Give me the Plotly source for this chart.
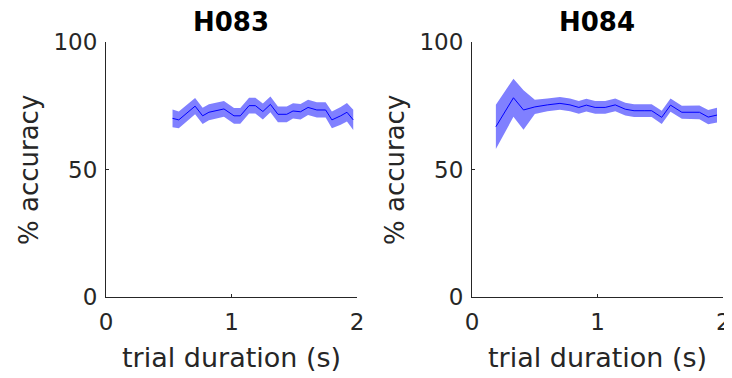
import plotly.graph_objects as go

# H083
x_h083 = [0.53, 0.58, 0.71, 0.77, 0.82, 0.94, 1.02, 1.07, 1.14, 1.19, 1.25, 1.31,
          1.37, 1.44, 1.49, 1.55, 1.61, 1.68, 1.75, 1.80, 1.87, 1.92, 1.97]
acc_h083 = [70.1, 69.5, 74.9, 71.1, 72.5, 73.8, 71.1, 71.1, 75.1, 75.1, 72.8, 75.6,
            71.7, 71.7, 73.0, 72.7, 74.4, 73.4, 73.4, 69.5, 71.1, 72.5, 69.5]
err_h083 = [3.5, 3.3, 3.2, 3.2, 3.1, 3.1, 3.1, 3.1, 3.1, 3.1, 3.1, 3.1,
            3.1, 3.1, 3.0, 3.0, 3.0, 3.0, 3.0, 3.3, 3.5, 3.6, 4.0]

# H084
x_h084 = [0.19, 0.33, 0.41, 0.50, 0.60, 0.70, 0.78, 0.85, 0.91, 0.98, 1.06, 1.14,
          1.22, 1.29, 1.37, 1.43, 1.51, 1.58, 1.67, 1.75, 1.81, 1.88, 1.95]
acc_h084 = [66.8, 78.2, 73.4, 74.6, 75.4, 76.0, 75.4, 74.4, 75.3, 74.4, 74.4, 75.4,
            73.7, 73.1, 73.1, 73.1, 70.5, 75.3, 72.5, 72.5, 72.5, 70.6, 71.4]
err_h084 = [8.7, 7.5, 7.8, 2.8, 2.5, 2.5, 2.5, 2.5, 2.5, 2.5, 2.5, 2.5,
            2.5, 2.5, 2.5, 2.5, 2.6, 2.6, 2.6, 2.6, 2.7, 2.8, 2.9]

titles = ["H083", "H084"]
x_ticks = [0, 1, 2]
y_ticks = [0, 50, 100]

FONT = "DejaVu Sans"
TXT = "#262626"
BAND = "rgb(128,128,255)"
LINE = "rgb(0,0,255)"

W, H = 732, 378
OFF = 8  # page body margin


def px(x):
    return (x - OFF) / W


def py(y):
    return 1 - (y - OFF) / H


fig = go.Figure()

series = [(x_h083, acc_h083, err_h083), (x_h084, acc_h084, err_h084)]
for i, (xs, ys, es) in enumerate(series):
    xa = "x" if i == 0 else "x2"
    ya = "y" if i == 0 else "y2"
    upper = [y + e for y, e in zip(ys, es)]
    lower = [y - e for y, e in zip(ys, es)]
    fig.add_trace(go.Scatter(
        x=xs + xs[::-1], y=upper + lower[::-1], fill="toself",
        fillcolor=BAND, line=dict(width=0), mode="lines",
        hoverinfo="skip", showlegend=False, xaxis=xa, yaxis=ya))
    fig.add_trace(go.Scatter(
        x=xs, y=ys, mode="lines", line=dict(color=LINE, width=1),
        showlegend=False, xaxis=xa, yaxis=ya))

ax_common = dict(showgrid=False, zeroline=False, showline=True, linecolor=TXT,
                 linewidth=1, ticks="inside", ticklen=3, tickcolor=TXT,
                 automargin=False,
                 tickfont=dict(family=FONT, size=23, color=TXT))

ytop = py(42.3)
ybot = py(296.7)
fig.update_layout(
    width=W, height=H, autosize=False,
    margin=dict(l=0, r=0, t=0, b=0, pad=0, autoexpand=False),
    paper_bgcolor="white", plot_bgcolor="white",
    xaxis=dict(domain=[px(106), px(357)], range=[0, 2], tickvals=x_ticks, anchor="y",
               ticklabelstandoff=5, **ax_common),
    yaxis=dict(domain=[ybot, ytop], range=[0, 100], tickvals=y_ticks, anchor="x",
               ticklabelstandoff=3, **ax_common),
    xaxis2=dict(domain=[px(472), px(723.3)], range=[0, 2], tickvals=x_ticks, anchor="y2",
                ticklabelstandoff=5, **ax_common),
    yaxis2=dict(domain=[ybot, ytop], range=[0, 100], tickvals=y_ticks, anchor="x2",
                ticklabelstandoff=3, **ax_common),
)

centers = [231, 597]
ylab_x = [29, 395]
for i in range(2):
    fig.add_annotation(text="<b>%s</b>" % titles[i], x=px(centers[i]), y=py(22),
                       xref="paper", yref="paper", showarrow=False,
                       font=dict(family=FONT, size=26, color="black"),
                       xanchor="center", yanchor="middle")
    fig.add_annotation(text="trial duration (s)", x=px(centers[i]), y=py(357),
                       xref="paper", yref="paper", showarrow=False,
                       font=dict(family=FONT, size=27, color=TXT),
                       xanchor="center", yanchor="middle")
    fig.add_annotation(text="% accuracy", x=px(ylab_x[i]), y=py(170),
                       xref="paper", yref="paper", showarrow=False, textangle=-90,
                       font=dict(family=FONT, size=26, color=TXT),
                       xanchor="center", yanchor="middle")

fig.write_html("out.html")
